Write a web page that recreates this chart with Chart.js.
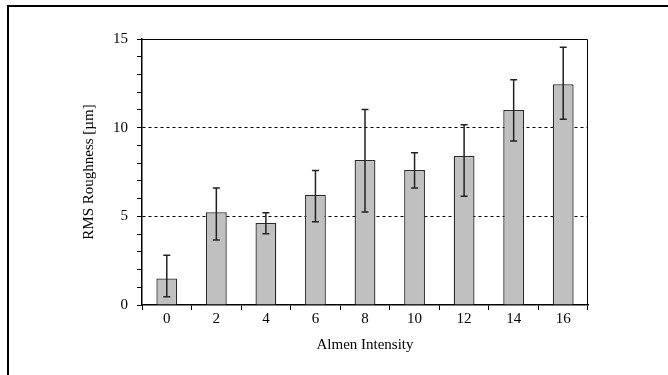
<html>
  <head>
    <title>RMS Roughness vs Almen Intensity</title>
    <script src="https://cdn.jsdelivr.net/npm/chart.js"></script>
    <style>
      body { margin: 0; background: #fff; }
      #wrap { position: relative; width: 668px; height: 375px; }
      #frame { position: absolute; left: 7px; top: 5px; right: 0; bottom: 0; border-left: 2px solid #000; border-top: 2px solid #000; pointer-events: none; }
    </style>
  </head>

  <body>
    <div id="wrap">
      <canvas id="myChart" width="668" height="375"></canvas>
      <div id="frame"></div>
    </div>

  <script>

    // Almen intensity categories
    const intensity = ["0", "2", "4", "6", "8", "10", "12", "14", "16"];
    // mean RMS roughness [um]
    const roughness = [1.5, 5.23, 4.62, 6.22, 8.18, 7.61, 8.4, 11.0, 12.45];
    // error bar ends
    const errHigh = [2.8, 6.6, 5.2, 7.58, 11.02, 8.59, 10.17, 12.7, 14.53];
    const errLow = [0.47, 3.67, 4.02, 4.7, 5.25, 6.6, 6.13, 9.25, 10.47];
    // labelled y ticks
    const yLabels = [0, 5, 10, 15];
    const dashedAt = [5, 10];

    const serif = "'Liberation Serif', 'Times New Roman', serif";

    // error bars drawn through the chart's own scales
    const errorBars = {
      id: 'errorBars',
      afterDatasetsDraw(chart) {
        const ctx = chart.ctx;
        const y = chart.scales.y;
        const meta = chart.getDatasetMeta(0);
        ctx.save();
        ctx.strokeStyle = '#222';
        ctx.lineWidth = 1.5;
        meta.data.forEach((bar, i) => {
          const top = y.getPixelForValue(errHigh[i]);
          const bot = y.getPixelForValue(errLow[i]);
          ctx.beginPath();
          ctx.moveTo(bar.x, top); ctx.lineTo(bar.x, bot);
          ctx.moveTo(bar.x - 3.5, top); ctx.lineTo(bar.x + 3.5, top);
          ctx.moveTo(bar.x - 3.5, bot); ctx.lineTo(bar.x + 3.5, bot);
          ctx.stroke();
        });
        ctx.restore();
      }
    };

    // top and right edge of the plot box
    const plotBox = {
      id: 'plotBox',
      afterDraw(chart) {
        const a = chart.chartArea;
        const ctx = chart.ctx;
        ctx.save();
        ctx.strokeStyle = '#000';
        ctx.lineWidth = 1;
        ctx.beginPath();
        ctx.moveTo(a.left, a.top + 0.5);
        ctx.lineTo(a.right - 0.5, a.top + 0.5);
        ctx.lineTo(a.right - 0.5, a.bottom);
        ctx.stroke();
        ctx.restore();
      }
    };

    const data = {
      labels: intensity,
      datasets: [{
        data: roughness,
        backgroundColor: '#c0c0c0',
        borderColor: '#2a2a2a',
        borderWidth: 1.3,
        barPercentage: 0.42,
        categoryPercentage: 1
      }]
    };

    const config = {
      type: 'bar',
      data: data,
      options: {
        responsive: false,
        animation: false,
        layout: { padding: { left: 80, right: 80, top: 39, bottom: 21 } },
        plugins: { legend: { display: false }, tooltip: { enabled: false } },
        scales: {
          x: {
            afterFit(s) { s.height = 49; },
            grid: {
              offset: true,
              drawOnChartArea: false,
              drawTicks: true,
              tickLength: 5,
              tickColor: '#000'
            },
            border: { color: '#000', width: 1.5 },
            ticks: { color: '#000', padding: 0, font: { family: serif, size: 15 } },
            title: {
              display: true,
              text: 'Almen Intensity',
              color: '#000',
              padding: 0,
              font: { family: serif, size: 15 }
            }
          },
          y: {
            min: 0,
            max: 15,
            afterFit(s) { s.width = 62; },
            ticks: {
              stepSize: 1,
              autoSkip: false,
              color: '#000',
              padding: 9,
              font: { family: serif, size: 15 },
              callback: (v) => yLabels.includes(v) ? String(v) : ''
            },
            grid: {
              drawTicks: true,
              tickLength: 5,
              tickColor: '#000',
              color: (c) => dashedAt.includes(c.tick.value) ? '#000' : 'rgba(0,0,0,0)'
            },
            border: { color: '#000', width: 1.5, dash: [3, 3] },
            title: {
              display: true,
              text: 'RMS Roughness [µm]',
              color: '#000',
              padding: 0,
              font: { family: serif, size: 15 }
            }
          }
        }
      },
      plugins: [errorBars, plotBox]
    };

    window.myChart = new Chart(document.getElementById('myChart'), config);

  </script>

  </body>
</html>
